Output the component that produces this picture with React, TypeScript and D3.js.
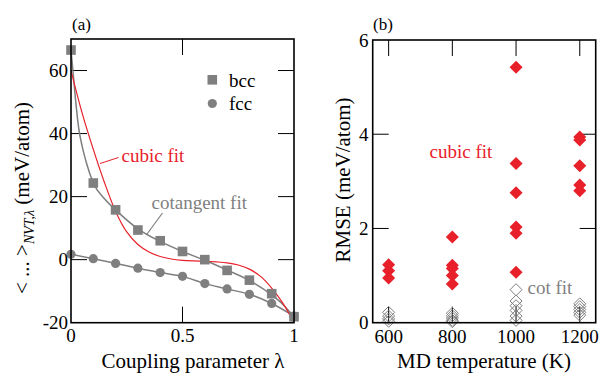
import React from "react";
import * as d3 from "d3";

// ---- panel (a): thermodynamic integration integrand ----
const lambdas = [0, 0.1, 0.2, 0.3, 0.4, 0.5, 0.6, 0.7, 0.8, 0.9, 1.0];
const bccEnergy = [66.5, 24.3, 15.8, 9.4, 6.0, 2.6, 0.0, -3.4, -6.5, -10.8, -18.1];
const fccEnergy = [1.7, 0.3, -1.2, -2.7, -4.1, -5.3, -7.6, -9.3, -11.0, -13.9, -17.9];

// cotangent fit through the bcc data
const cotFitLambda = [0, 0.01, 0.02, 0.035, 0.05, 0.07, 0.1, 0.15, 0.2, 0.3, 0.4, 0.5, 0.6, 0.7, 0.8, 0.9, 0.95, 1.0];
const cotFitEnergy = [66.5, 59, 51, 41.5, 36, 30.5, 24.3, 19.3, 15.8, 9.8, 5.8, 2.6, -0.2, -3.3, -6.6, -11.2, -14.2, -18.1];

// cubic fit through the bcc data
const cubicFitLambda = [0, 0.05, 0.1, 0.15, 0.2, 0.25, 0.3, 0.35, 0.4, 0.45, 0.5, 0.55, 0.6, 0.65, 0.7, 0.75, 0.8, 0.85, 0.9, 0.95, 1.0];
const cubicFitEnergy = [60, 46.5, 35, 24.5, 15.3, 8.8, 4.8, 2.4, 1.0, 0.2, -0.2, -0.4, -0.5, -0.7, -1.0, -1.7, -3.0, -5.3, -9.0, -13.8, -20];

const aXTicks = [0, 0.5, 1];
const aYTicks = [-20, 0, 20, 40, 60];

// ---- panel (b): RMSE of the fits vs MD temperature ----
const temperatures = [600, 800, 1000, 1200];
const cubicRmse = [
  [1.23, 1.1, 0.95],
  [1.82, 1.22, 1.15, 1.0, 0.82],
  [5.42, 3.38, 2.76, 2.03, 1.9, 1.07],
  [3.94, 3.88, 3.33, 2.92, 2.8],
];
const cotRmse = [
  [0.22, 0.14, 0.08, 0.03],
  [0.2, 0.15, 0.1, 0.05, 0.02],
  [0.7, 0.46, 0.36, 0.26, 0.14, 0.05],
  [0.4, 0.34, 0.28, 0.22, 0.16],
];
const bXTicks = [600, 800, 1000, 1200];
const bYTicks = [0, 2, 4, 6];

const RED = "#e8202a";
const GRAY = "#7f7f7f";
const FONT = "'Liberation Serif', 'Times New Roman', serif";

export default function App() {
  const W = 609;
  const H = 373;

  // panel (a) scales
  const ax = d3.scaleLinear().domain([0, 1]).range([71, 294]);
  const ay = d3.scaleLinear().domain([-20, 70]).range([322.7, 39]);
  // panel (b) scales
  const bx = d3.scaleLinear().domain([550, 1250]).range([372.7, 595.7]);
  const by = d3.scaleLinear().domain([0, 6]).range([322.7, 40]);

  const tickLen = 16;

  const lineA = (xs: number[], ys: number[], curve: d3.CurveFactory) =>
    d3
      .line<number>()
      .x((_, i) => ax(xs[i]))
      .y((d) => ay(d))
      .curve(curve)(ys) || "";

  const diamond = (cx: number, cy: number, r: number) =>
    `M${cx},${cy - r}L${cx + r},${cy}L${cx},${cy + r}L${cx - r},${cy}Z`;

  const [aX0, aX1] = ax.range();
  const [aY0, aY1] = ay.range();
  const [bX0, bX1] = bx.range();
  const [bY0, bY1] = by.range();

  return (
    <svg
      width={W}
      height={H}
      style={{ position: "absolute", left: 0, top: 0, background: "#fff" }}
      fontFamily={FONT}
    >
      <rect width={W} height={H} fill="#fff" />

      {/* ================= panel (a) ================= */}
      <defs>
        <clipPath id="clipA">
          <rect x={aX0} y={aY1} width={aX1 - aX0} height={aY0 - aY1} />
        </clipPath>
      </defs>
      <text x={72} y={30} fontSize={17}>(a)</text>

      {/* ticks */}
      {aYTicks.filter((t) => t > -20).map((t) => (
        <g key={"ayt" + t} stroke="#000" strokeWidth={1}>
          <line x1={aX0} x2={aX0 + tickLen} y1={ay(t)} y2={ay(t)} />
          <line x1={aX1} x2={aX1 - tickLen} y1={ay(t)} y2={ay(t)} />
        </g>
      ))}
      {aXTicks.filter((t) => t > 0 && t < 1).map((t) => (
        <g key={"axt" + t} stroke="#000" strokeWidth={1}>
          <line x1={ax(t)} x2={ax(t)} y1={aY0} y2={aY0 - tickLen} />
          <line x1={ax(t)} x2={ax(t)} y1={aY1} y2={aY1 + tickLen} />
        </g>
      ))}

      {/* fits and data */}
      <g clipPath="url(#clipA)">
        <path d={lineA(lambdas, fccEnergy, d3.curveMonotoneX)} fill="none" stroke={GRAY} strokeWidth={1.5} />
        <path d={lineA(cotFitLambda, cotFitEnergy, d3.curveMonotoneX)} fill="none" stroke={GRAY} strokeWidth={1.5} />
        <path d={lineA(cubicFitLambda, cubicFitEnergy, d3.curveCatmullRom.alpha(0.5))} fill="none" stroke={RED} strokeWidth={1.2} />
      </g>
      {fccEnergy.map((v, i) => (
        <circle key={"fcc" + i} cx={ax(lambdas[i])} cy={ay(v)} r={4.6} fill={GRAY} />
      ))}
      {bccEnergy.map((v, i) => (
        <rect key={"bcc" + i} x={ax(lambdas[i]) - 4.8} y={ay(v) - 4.8} width={9.6} height={9.6} fill={GRAY} />
      ))}

      {/* frame */}
      <rect x={aX0} y={aY1} width={aX1 - aX0} height={aY0 - aY1} fill="none" stroke="#000" strokeWidth={1.6} />

      {/* tick labels */}
      {aYTicks.map((t) => (
        <text key={"ayl" + t} x={68} y={ay(t)} dy="0.35em" fontSize={19} textAnchor="end">
          {t}
        </text>
      ))}
      {aXTicks.map((t) => (
        <text key={"axl" + t} x={ax(t)} y={342} fontSize={19} textAnchor="middle">
          {t}
        </text>
      ))}

      {/* legend */}
      <rect x={207.5} y={75} width={9.6} height={9.6} fill={GRAY} />
      <text x={229} y={87} fontSize={19}>bcc</text>
      <circle cx={212.3} cy={103.5} r={4.6} fill={GRAY} />
      <text x={229} y={110} fontSize={19}>fcc</text>

      {/* annotations */}
      <text x={121.5} y={162} fontSize={19} fill={RED}>cubic fit</text>
      <line x1={100} y1={163.5} x2={118.5} y2={157.5} stroke={RED} strokeWidth={1} />
      <text x={151.5} y={208.5} fontSize={19} fill={GRAY}>cotangent fit</text>
      <line x1={146.7} y1={234.5} x2={162.5} y2={213} stroke={GRAY} strokeWidth={1.2} />

      {/* axis titles */}
      <text x={193} y={367.5} fontSize={21} textAnchor="middle">
        Coupling parameter λ
      </text>
      <text transform="translate(29,198) rotate(-90)" fontSize={21} textAnchor="middle">
        &lt; ... &gt;
        <tspan fontSize={14} fontStyle="italic" dy={5}>NVT,λ</tspan>
        <tspan dy={-5}> (meV/atom)</tspan>
      </text>

      {/* ================= panel (b) ================= */}
      <text x={373} y={30} fontSize={17}>(b)</text>

      {bXTicks.map((t) => (
        <g key={"bxt" + t} stroke="#000" strokeWidth={1}>
          <line x1={bx(t)} x2={bx(t)} y1={bY0} y2={bY0 - tickLen} />
          <line x1={bx(t)} x2={bx(t)} y1={bY1} y2={bY1 + tickLen} />
        </g>
      ))}
      {bYTicks.filter((t) => t > 0 && t < 6).map((t) => (
        <g key={"byt" + t} stroke="#000" strokeWidth={1}>
          <line x1={bX0} x2={bX0 + tickLen} y1={by(t)} y2={by(t)} />
          <line x1={bX1} x2={bX1 - tickLen} y1={by(t)} y2={by(t)} />
        </g>
      ))}

      {cotRmse.map((vals, i) =>
        vals.map((v, j) => (
          <path
            key={"cot" + i + "-" + j}
            d={diamond(bx(temperatures[i]), by(v), 6)}
            fill="none"
            stroke={GRAY}
            strokeWidth={1}
          />
        ))
      )}
      {cubicRmse.map((vals, i) =>
        vals.map((v, j) => (
          <path key={"cub" + i + "-" + j} d={diamond(bx(temperatures[i]), by(v), 6.5)} fill={RED} />
        ))
      )}

      <rect x={bX0} y={bY1} width={bX1 - bX0} height={bY0 - bY1} fill="none" stroke="#000" strokeWidth={1.6} />

      {bYTicks.map((t) => (
        <text key={"byl" + t} x={368.5} y={by(t)} dy="0.35em" fontSize={19} textAnchor="end">
          {t}
        </text>
      ))}
      {bXTicks.map((t) => (
        <text key={"bxl" + t} x={bx(t)} y={343} fontSize={19} textAnchor="middle">
          {t}
        </text>
      ))}

      <text x={429.5} y={158} fontSize={19} fill={RED}>cubic fit</text>
      <text x={527.5} y={293.5} fontSize={19} fill={GRAY}>cot fit</text>

      <text x={484} y={367.5} fontSize={21} textAnchor="middle">
        MD temperature (K)
      </text>
      <text transform="translate(350,180) rotate(-90)" fontSize={21} textAnchor="middle">
        RMSE (meV/atom)
      </text>
    </svg>
  );
}
